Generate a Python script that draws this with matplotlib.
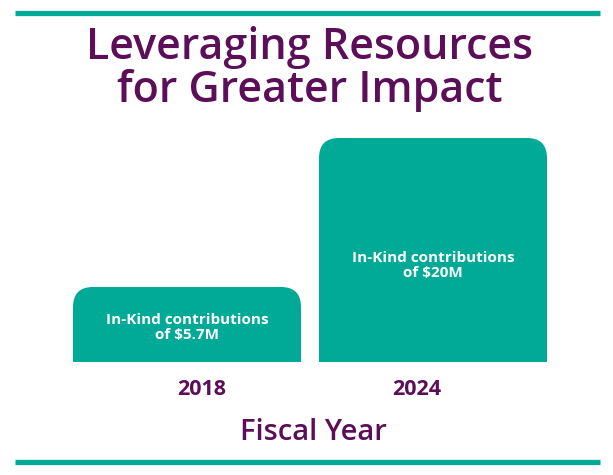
import numpy as np
import matplotlib.pyplot as plt
from matplotlib.patches import FancyBboxPatch
from matplotlib.lines import Line2D

years = ["2018", "2024"]
values = [5.7, 20]
bar_texts = ["In-Kind contributions\nof $5.7M", "In-Kind contributions\nof $20M"]
title = "Leveraging Resources\nfor Greater Impact"
xlabel = "Fiscal Year"

teal = "#00AA96"
purple = "#5C0E59"
plt.rcParams["font.family"] = ["Open Sans", "DejaVu Sans"]

W, H = 613, 475
fig = plt.figure(figsize=(W / 100, H / 100), dpi=100)

# axes placed in pixels: bars from x=73..547, baseline y=362, top y=138
off = 1.5
ax = fig.add_axes([73 / W, 1 - 362 / H, 474 / W, 224 / H])
x = np.arange(len(years))
width = 228 / 246
ax.set_xlim(-0.5 * width, 1 + 0.5 * width)
ax.set_ylim(-off, max(values))
for s in ax.spines.values():
    s.set_visible(False)
ax.set_yticks([])
# year labels sit a little inward of the bar centres
ax.set_xticks(x + np.array([0.06, -0.065]), labels=years)
ax.tick_params(axis="x", length=0, pad=12, labelsize=15.5, labelcolor=purple)
for t in ax.get_xticklabels():
    t.set_fontweight("bold")

bars = ax.bar(x, np.array(values) + off, bottom=-off, width=width, color=teal)

# swap plain bars for top-rounded ones
px_x = 246.0
px_y = 224.0 / (max(values) + off)
r = 20 / px_x
for b in bars:
    b.set_visible(False)
    x0, y0 = b.get_x(), b.get_y()
    w, h = b.get_width(), b.get_height()
    extra = 25 / px_y
    p = FancyBboxPatch((x0, y0 - extra), w, h + extra,
                       boxstyle=f"round,pad=0,rounding_size={r}",
                       mutation_aspect=px_x / px_y,
                       facecolor=teal, edgecolor="none", clip_on=True)
    ax.add_patch(p)

for xi, v, txt in zip(x, values, bar_texts):
    ax.text(xi, 0.42 * v - 0.6, txt, ha="center", va="center", color="white",
            fontsize=11, fontweight="bold", linespacing=1.1)

fig.text(310 / W, 1 - 69 / H, title, ha="center", va="center", color=purple,
         fontsize=31, fontweight="semibold", linespacing=1.0)
fig.text(313 / W, 1 - 432 / H, xlabel, ha="center", va="center", color=purple,
         fontsize=21, fontweight="semibold")

for yy in [13, 462]:
    fig.add_artist(Line2D([15 / W, 600 / W], [1 - yy / H, 1 - yy / H],
                          color=teal, lw=3.8, solid_capstyle="butt"))

fig.savefig("out.png", dpi=100)
